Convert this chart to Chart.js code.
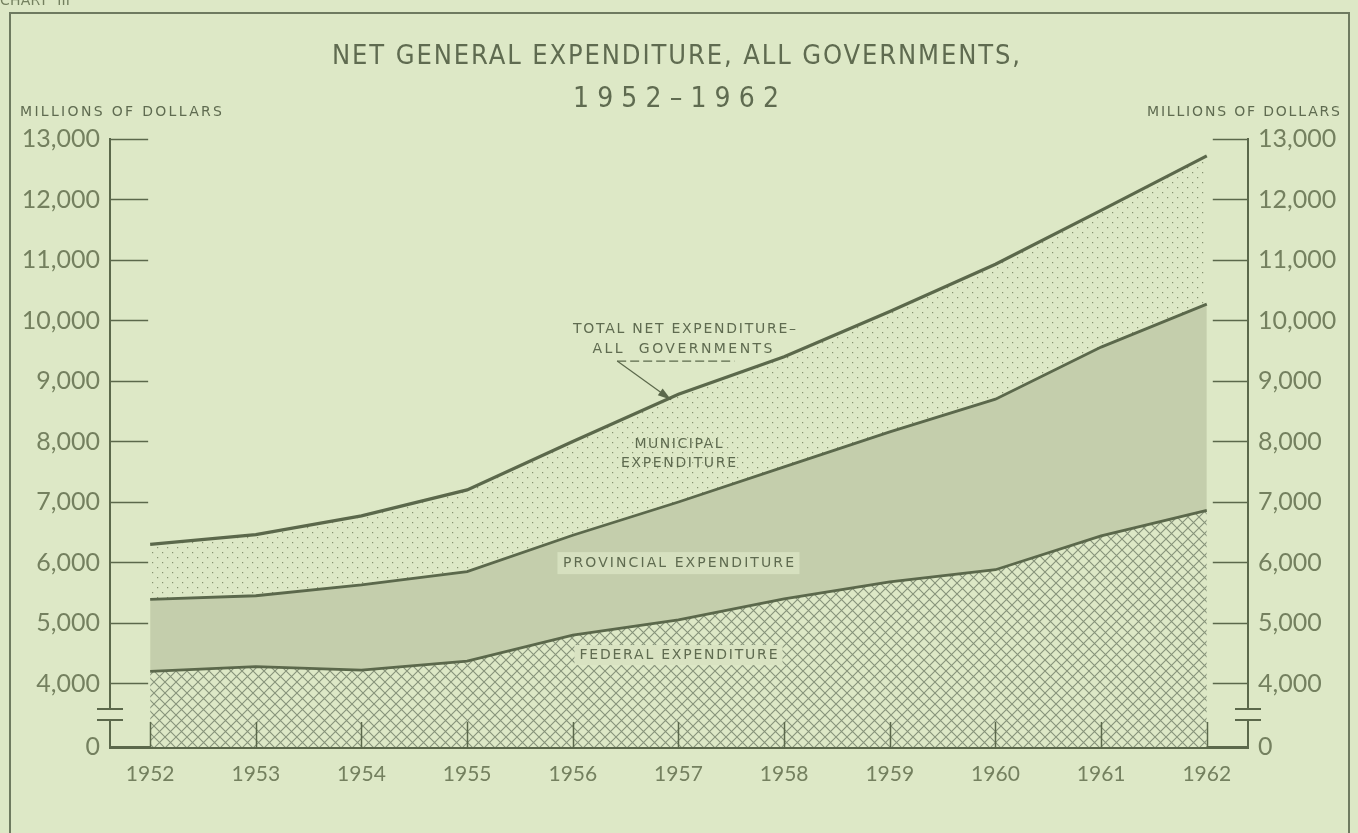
<!DOCTYPE html>
<html>
<head>
<meta charset="utf-8">
<script src="https://cdn.jsdelivr.net/npm/chart.js@4.4.1/dist/chart.umd.min.js"></script>
<style>
  html, body { margin: 0; padding: 0; background: #dde8c6; overflow: hidden; }
  canvas { display: block; }
</style>
</head>
<body>
<canvas id="grafico" width="1358" height="833"></canvas>
<script>
// valores (milhões de dólares)
const anos = [1952, 1953, 1954, 1955, 1956, 1957, 1958, 1959, 1960, 1961, 1962];
const federal = [4200, 4280, 4220, 4370, 4800, 5050, 5400, 5680, 5880, 6440, 6860];
const provincial = [1190, 1170, 1410, 1480, 1650, 1950, 2180, 2480, 2820, 3120, 3410];
const municipal = [910, 1010, 1140, 1350, 1550, 1780, 1820, 1990, 2230, 2260, 2450];
const ticksY = [4000, 5000, 6000, 7000, 8000, 9000, 10000, 11000, 12000, 13000];
const baseY = 2950; // fundo do eixo quebrado, rotulado "0"

const FUNDO = '#dde8c6';
const LINHA = '#5b684b';
const TEXTO = '#5f6b50';
const ROTULO = '#74805f';

// padrões de preenchimento
const criarPadrao = (tam, desenhar) => {
  const c = document.createElement('canvas');
  c.width = tam; c.height = tam;
  const g = c.getContext('2d');
  g.fillStyle = FUNDO;
  g.fillRect(0, 0, tam, tam);
  desenhar(g, tam);
  return document.getElementById('grafico').getContext('2d').createPattern(c, 'repeat');
};

const xadrez = criarPadrao(11, (g, t) => {
  g.strokeStyle = '#86937a';
  g.lineWidth = 1.1;
  g.beginPath();
  g.moveTo(0, 0); g.lineTo(t, t);
  g.moveTo(t, 0); g.lineTo(0, t);
  g.stroke();
});

const pontos = criarPadrao(10, (g) => {
  g.fillStyle = '#85916f';
  g.fillRect(2, 2, 1.2, 1.2);
  g.fillRect(7, 7, 1.2, 1.2);
});

const texto = (ctx, str, x, y, size, largura, cor, align = 'center', family = 'DejaVu Sans') => {
  ctx.font = `${size}px "${family}"`;
  ctx.letterSpacing = '0px';
  let ls = 0;
  if (largura) {
    const w0 = ctx.measureText(str).width;
    ls = (largura - w0) / Math.max(1, str.length - 1);
  }
  ctx.letterSpacing = ls + 'px';
  ctx.textAlign = align;
  ctx.textBaseline = 'middle';
  ctx.fillStyle = cor;
  ctx.fillText(str, align === 'center' ? x + ls / 2 : x, y);
  ctx.letterSpacing = '0px';
};

const fundoPlugin = {
  id: 'fundo',
  beforeDraw(chart) {
    const ctx = chart.ctx;
    ctx.save();
    ctx.fillStyle = FUNDO;
    ctx.fillRect(0, 0, chart.width, chart.height);
    ctx.restore();
  }
};

const rotulosPlugin = {
  id: 'rotulos',
  afterDatasetsDraw(chart) {
    const ctx = chart.ctx;
    const x = chart.scales.x, y = chart.scales.y;
    ctx.save();
    const cx = x.getPixelForValue(1957.0);

    texto(ctx, 'TOTAL NET EXPENDITURE–', cx + 6, y.getPixelForValue(9860), 14, 223, TEXTO);
    texto(ctx, 'ALL  GOVERNMENTS', cx + 4, y.getPixelForValue(9530), 14, 180, TEXTO);

    // sublinhado tracejado e seta
    const ax = x.getPixelForValue(1956.42), ay = y.getPixelForValue(9330);
    ctx.strokeStyle = LINHA;
    ctx.lineWidth = 1.2;
    ctx.setLineDash([9, 4]);
    ctx.beginPath();
    ctx.moveTo(ax, ay);
    ctx.lineTo(x.getPixelForValue(1957.53), ay);
    ctx.stroke();
    ctx.setLineDash([]);
    const tx = x.getPixelForValue(1956.93), ty = y.getPixelForValue(8690);
    ctx.beginPath();
    ctx.moveTo(ax, ay);
    ctx.lineTo(tx, ty);
    ctx.stroke();
    const ang = Math.atan2(ty - ay, tx - ax);
    ctx.fillStyle = LINHA;
    ctx.beginPath();
    ctx.moveTo(tx, ty);
    ctx.lineTo(tx - 14 * Math.cos(ang - 0.3), ty - 14 * Math.sin(ang - 0.3));
    ctx.lineTo(tx - 14 * Math.cos(ang + 0.3), ty - 14 * Math.sin(ang + 0.3));
    ctx.closePath();
    ctx.fill();

    texto(ctx, 'MUNICIPAL', cx, y.getPixelForValue(7960), 14, 88, TEXTO);
    texto(ctx, 'EXPENDITURE', cx, y.getPixelForValue(7645), 14, 115, TEXTO);

    // caixas claras atrás dos rótulos
    const py = y.getPixelForValue(5990);
    ctx.fillStyle = '#d6e0bf';
    ctx.fillRect(cx - 121, py - 11, 242, 22);
    texto(ctx, 'PROVINCIAL EXPENDITURE', cx, py, 14, 231, TEXTO);

    const fy = y.getPixelForValue(4470);
    ctx.fillStyle = '#d9e3c2';
    ctx.fillRect(cx - 104, fy - 10, 208, 20);
    texto(ctx, 'FEDERAL EXPENDITURE', cx, fy, 14, 198, TEXTO);
    ctx.restore();
  }
};

const eixosPlugin = {
  id: 'eixos',
  afterDraw(chart) {
    const ctx = chart.ctx;
    const a = chart.chartArea;
    const x = chart.scales.x, y = chart.scales.y;
    ctx.save();
    ctx.strokeStyle = LINHA;
    ctx.lineWidth = 1.5;

    // marcas horizontais dos dois eixos
    const x0 = x.getPixelForValue(anos[0]) - 2;
    const x1 = x.getPixelForValue(anos[anos.length - 1]) + 6;
    ticksY.forEach(v => {
      const py = Math.round(y.getPixelForValue(v)) + 0.5;
      ctx.beginPath();
      ctx.moveTo(a.left, py); ctx.lineTo(x0, py);
      ctx.moveTo(x1, py); ctx.lineTo(a.right, py);
      ctx.stroke();
    });

    // marcas verticais dos anos
    anos.forEach(ano => {
      const px = Math.round(x.getPixelForValue(ano)) + 0.5;
      ctx.beginPath();
      ctx.moveTo(px, a.bottom);
      ctx.lineTo(px, a.bottom - 25);
      ctx.stroke();
    });

    // quebra do eixo
    const q1 = y.getPixelForValue(3578), q2 = y.getPixelForValue(3396);
    [a.left, a.right].forEach(px => {
      ctx.fillStyle = FUNDO;
      ctx.fillRect(px - 3, q1 + 1, 6, q2 - q1 - 2);
      ctx.lineWidth = 2.2;
      ctx.beginPath();
      ctx.moveTo(px - 13, q1); ctx.lineTo(px + 13, q1);
      ctx.moveTo(px - 13, q2); ctx.lineTo(px + 13, q2);
      ctx.stroke();
    });

    // moldura
    ctx.strokeStyle = '#6e7a60';
    ctx.lineWidth = 2;
    ctx.beginPath();
    ctx.moveTo(10, chart.height + 5); ctx.lineTo(10, 13);
    ctx.lineTo(1349, 13); ctx.lineTo(1349, chart.height + 5);
    ctx.stroke();

    // cabeçalho
    texto(ctx, 'CHART  III', 0, 1, 14, 70, ROTULO, 'left');
    texto(ctx, 'NET GENERAL EXPENDITURE, ALL GOVERNMENTS,', 676, 57, 27, 688, TEXTO, 'center', 'DejaVu Sans Condensed');
    texto(ctx, '1952–1962', 676, 100, 28, 206, TEXTO, 'center', 'DejaVu Sans Condensed');
    texto(ctx, 'MILLIONS OF DOLLARS', 20, 112, 14, 202, TEXTO, 'left');
    texto(ctx, 'MILLIONS OF DOLLARS', 1147, 112, 14, 193, TEXTO, 'left');
    ctx.restore();
  }
};

const fonteTick = { family: 'Lato', weight: '400', size: 25 };
const eixoY = (pos) => ({
  position: pos,
  min: baseY,
  max: 13000,
  afterBuildTicks: s => { s.ticks = [baseY, ...ticksY].map(v => ({ value: v })); },
  afterFit: s => { s.width = 110; },
  ticks: {
    callback: v => v < 4000 ? '0' : v.toLocaleString('en-US'),
    font: fonteTick,
    color: ROTULO,
    padding: 10
  },
  grid: { display: false, drawTicks: false },
  border: { display: true, color: LINHA, width: 2 }
});

const serie = (label, valores, fundo, largura, fill) => ({
  label,
  data: anos.map((ano, i) => ({ x: ano, y: valores[i] })),
  backgroundColor: fundo,
  borderColor: LINHA,
  borderWidth: largura,
  fill,
  tension: 0,
  pointRadius: 0
});

new Chart(document.getElementById('grafico'), {
  type: 'line',
  data: {
    datasets: [
      serie('Federal expenditure', federal, xadrez, 2.8, 'origin'),
      serie('Provincial expenditure', provincial, '#c4ceac', 2.8, '-1'),
      serie('Municipal expenditure', municipal, pontos, 3.2, '-1')
    ]
  },
  options: {
    responsive: false,
    animation: false,
    layout: { padding: { top: 139, left: 0, right: 0, bottom: 0 } },
    plugins: {
      legend: { display: false },
      title: { display: false },
      tooltip: { enabled: false }
    },
    scales: {
      x: {
        type: 'linear',
        min: 1951.62,
        max: 1962.39,
        z: 1,
        afterBuildTicks: s => { s.ticks = anos.map(v => ({ value: v })); },
        afterFit: s => { s.height = 86; },
        ticks: {
          callback: v => String(v),
          font: { family: 'Lato', weight: '400', size: 21 },
          color: ROTULO,
          padding: 15,
          maxRotation: 0,
          autoSkip: false
        },
        grid: { display: false, drawTicks: false },
        border: { display: true, color: LINHA, width: 3 }
      },
      y: { ...eixoY('left'), stacked: true },
      y2: eixoY('right')
    }
  },
  plugins: [fundoPlugin, rotulosPlugin, eixosPlugin]
});
</script>
</body>
</html>
